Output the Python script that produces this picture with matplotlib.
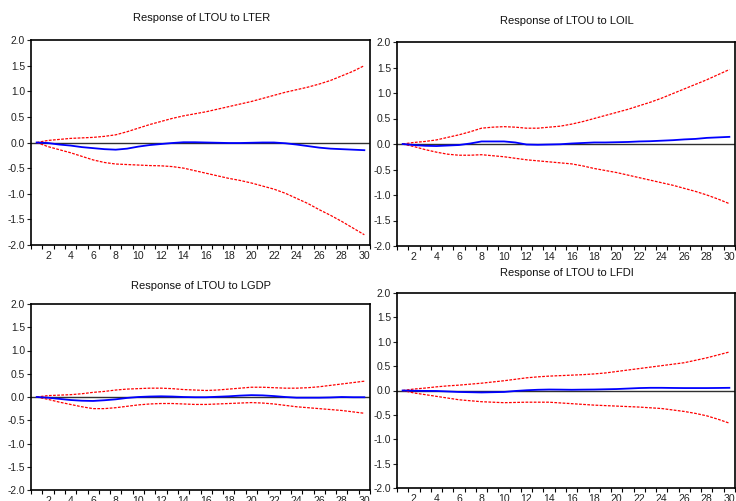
import matplotlib
matplotlib.use("Agg")
import matplotlib.pyplot as plt
import numpy as np
from matplotlib.ticker import FixedLocator, FormatStrFormatter

plt.rcParams['font.family'] = ['Liberation Sans', 'DejaVu Sans']

periods = list(range(1, 31))

titles = ["Response of LTOU to LTER", "Response of LTOU to LOIL",
          "Response of LTOU to LGDP", "Response of LTOU to LFDI"]

lter_resp = [0, -0.01, -0.04, -0.06, -0.09, -0.11, -0.13, -0.14, -0.12, -0.08,
             -0.05, -0.03, -0.01, 0.005, 0.005, 0.0, -0.005, -0.01, -0.01, -0.005,
             0.0, 0.0, -0.015, -0.04, -0.07, -0.10, -0.12, -0.13, -0.14, -0.15]
lter_up = [0, 0.04, 0.06, 0.08, 0.09, 0.10, 0.12, 0.15, 0.21, 0.28,
           0.35, 0.41, 0.47, 0.52, 0.56, 0.60, 0.65, 0.70, 0.75, 0.80,
           0.86, 0.92, 0.98, 1.03, 1.08, 1.14, 1.21, 1.30, 1.39, 1.50]
lter_lo = [0, -0.08, -0.14, -0.20, -0.27, -0.34, -0.39, -0.42, -0.43, -0.44,
           -0.45, -0.455, -0.47, -0.50, -0.55, -0.60, -0.65, -0.70, -0.74, -0.79,
           -0.85, -0.91, -0.99, -1.09, -1.19, -1.31, -1.42, -1.54, -1.67, -1.80]

loil_resp = [0, -0.02, -0.035, -0.04, -0.03, -0.02, 0.01, 0.05, 0.05, 0.05,
             0.03, -0.01, -0.015, -0.01, -0.005, 0.01, 0.02, 0.03, 0.03, 0.035,
             0.04, 0.05, 0.055, 0.065, 0.075, 0.09, 0.10, 0.12, 0.13, 0.14]
loil_up = [0, 0.03, 0.05, 0.08, 0.13, 0.18, 0.24, 0.31, 0.33, 0.34,
           0.33, 0.31, 0.31, 0.33, 0.35, 0.39, 0.44, 0.50, 0.56, 0.62,
           0.68, 0.75, 0.82, 0.90, 0.99, 1.08, 1.17, 1.26, 1.36, 1.46]
loil_lo = [0, -0.05, -0.11, -0.16, -0.20, -0.22, -0.22, -0.21, -0.23, -0.25,
           -0.28, -0.31, -0.33, -0.35, -0.37, -0.39, -0.43, -0.48, -0.52, -0.56,
           -0.61, -0.66, -0.71, -0.76, -0.81, -0.87, -0.93, -1.00, -1.08, -1.17]

lgdp_resp = [0, -0.015, -0.04, -0.065, -0.08, -0.085, -0.07, -0.05, -0.02, 0.0,
             0.01, 0.015, 0.01, 0.0, -0.005, -0.005, 0.005, 0.015, 0.03, 0.04,
             0.035, 0.02, 0.0, -0.015, -0.015, -0.015, -0.01, 0.0, -0.005, -0.005]
lgdp_up = [0, 0.03, 0.04, 0.05, 0.07, 0.10, 0.12, 0.15, 0.17, 0.18,
           0.19, 0.19, 0.18, 0.16, 0.15, 0.14, 0.15, 0.17, 0.19, 0.21,
           0.21, 0.20, 0.19, 0.19, 0.20, 0.22, 0.25, 0.28, 0.31, 0.34]
lgdp_lo = [0, -0.05, -0.11, -0.16, -0.21, -0.25, -0.25, -0.23, -0.20, -0.17,
           -0.15, -0.14, -0.14, -0.15, -0.16, -0.16, -0.15, -0.14, -0.13, -0.12,
           -0.13, -0.15, -0.18, -0.21, -0.23, -0.25, -0.27, -0.29, -0.32, -0.35]

lfdi_resp = [0, -0.005, -0.008, -0.01, -0.02, -0.03, -0.035, -0.04, -0.035, -0.03,
             -0.01, 0.005, 0.015, 0.02, 0.018, 0.015, 0.018, 0.02, 0.025, 0.03,
             0.04, 0.05, 0.055, 0.055, 0.052, 0.05, 0.05, 0.05, 0.052, 0.055]
lfdi_up = [0, 0.03, 0.05, 0.075, 0.095, 0.11, 0.13, 0.15, 0.175, 0.20,
           0.23, 0.26, 0.28, 0.295, 0.305, 0.315, 0.325, 0.34, 0.36, 0.39,
           0.42, 0.45, 0.48, 0.51, 0.54, 0.57, 0.62, 0.67, 0.73, 0.79]
lfdi_lo = [0, -0.05, -0.085, -0.12, -0.155, -0.19, -0.21, -0.23, -0.24, -0.25,
           -0.245, -0.24, -0.24, -0.24, -0.255, -0.27, -0.285, -0.30, -0.31, -0.32,
           -0.33, -0.34, -0.355, -0.37, -0.40, -0.43, -0.47, -0.52, -0.59, -0.67]

y_ticks = [-2.0, -1.5, -1.0, -0.5, 0.0, 0.5, 1.0, 1.5, 2.0]
x_labels = list(range(2, 31, 2))

series = [(lter_resp, lter_up, lter_lo), (loil_resp, loil_up, loil_lo),
          (lgdp_resp, lgdp_up, lgdp_lo), (lfdi_resp, lfdi_up, lfdi_lo)]

W, H = 736, 501
# (left, right, top, bottom) in pixels
boxes = [(31, 370, 40, 245), (397, 735, 42, 246),
         (31, 370, 304, 490), (397, 735, 293, 488)]
title_pos = [(202, 18), (567, 21), (201, 286), (567, 273)]

fig = plt.figure(figsize=(W / 100, H / 100), dpi=100)
fig.patch.set_facecolor('white')

for i, (resp, up, lo) in enumerate(series):
    l, r, t, b = boxes[i]
    ax = fig.add_axes([l / W, 1 - b / H, (r - l) / W, (b - t) / H])
    ax.axhline(0, color='#303030', lw=1.0, zorder=1)
    ax.plot(periods, up, color='#ff0000', lw=0.9, ls=(0, (2.2, 1.1)), zorder=2)
    ax.plot(periods, lo, color='#ff0000', lw=0.9, ls=(0, (2.2, 1.1)), zorder=2)
    ax.plot(periods, resp, color='#0000ff', lw=1.3, zorder=3)
    ax.set_xlim(0.5, 30.5)
    ax.set_ylim(-2.0, 2.0)
    ax.yaxis.set_major_locator(FixedLocator(y_ticks))
    ax.yaxis.set_major_formatter(FormatStrFormatter('%.1f'))
    ax.xaxis.set_major_locator(FixedLocator(x_labels))
    ax.xaxis.set_minor_locator(FixedLocator(np.arange(0.5, 31, 1.0)))
    ax.tick_params(axis='x', which='major', length=0, labelsize=7.6, pad=4, colors='#222222')
    ax.tick_params(axis='x', which='minor', length=3, width=0.8, direction='out', color='black')
    ax.tick_params(axis='y', which='major', length=3, width=0.8, direction='out',
                   labelsize=7.4, pad=1.2, colors='#222222')
    for sp in ax.spines.values():
        sp.set_color('black')
        sp.set_linewidth(1.2)
    tx, ty = title_pos[i]
    fig.text(tx / W, 1 - ty / H, titles[i], ha='center', va='center', fontsize=8.0,
             color='#111111')

fig.savefig('out.png', dpi=100)
